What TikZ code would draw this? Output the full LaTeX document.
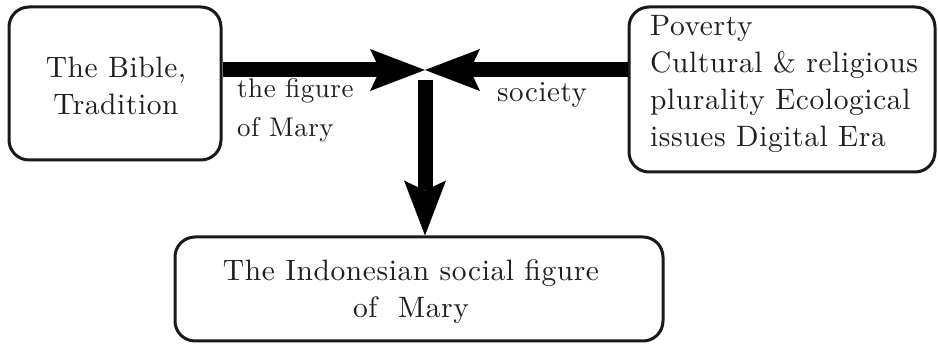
\documentclass[tikz,border=0pt]{standalone}
\usepackage{fontspec}
\setmainfont{lmroman10-regular.otf}[LetterSpace=2]
\usetikzlibrary{arrows.meta}
\begin{document}
\begin{tikzpicture}[x=1pt,y=-1pt,
  box/.style={draw=black!90, line width=3pt, rounded corners=20pt, inner sep=0pt},
  txt/.style={font=\fontsize{29.5}{37}\selectfont, inner sep=0pt, text=black!88},
  lbl/.style={font=\fontsize{27}{39}\selectfont, inner sep=0pt, text=black!88},
  bigarrow/.style={line width=15pt, draw=black, -{Stealth[length=55pt,width=42pt,inset=10pt,line width=0pt]}}]
\useasboundingbox (0,0) rectangle (938,344);
\node[box, minimum width=212pt, minimum height=153pt] (L) at (115,83.5) {};
\node[box, minimum width=306pt, minimum height=165pt] (R) at (782,89.5) {};
\node[box, minimum width=488pt, minimum height=104pt] (B) at (419,289) {};
\coordinate (meet) at (425,70);
\coordinate (dstart) at (425,80);
\draw[bigarrow] (L.east |- meet) -- (meet);
\draw[bigarrow] (R.west |- meet) -- (meet);
\draw[bigarrow] (dstart) -- (dstart |- B.north);
\node[txt, align=center, anchor=base] (tL) at (116,115) {The Bible,\\Tradition};
\node[txt, align=left, anchor=base west] (tR) at (650,147) {Poverty\\Cultural \& religious\\plurality Ecological\\issues Digital Era};
\node[txt, align=center, anchor=base] (tB) at (411,318) {The Indonesian social figure\\of~ Mary};
\node[lbl, align=left, anchor=base west] (l1) at (237,137) {the figure\\of Mary};
\node[lbl, font=\fontsize{29}{39}\selectfont, anchor=base west] (l2) at (497,102) {society};
\end{tikzpicture}
\end{document}
